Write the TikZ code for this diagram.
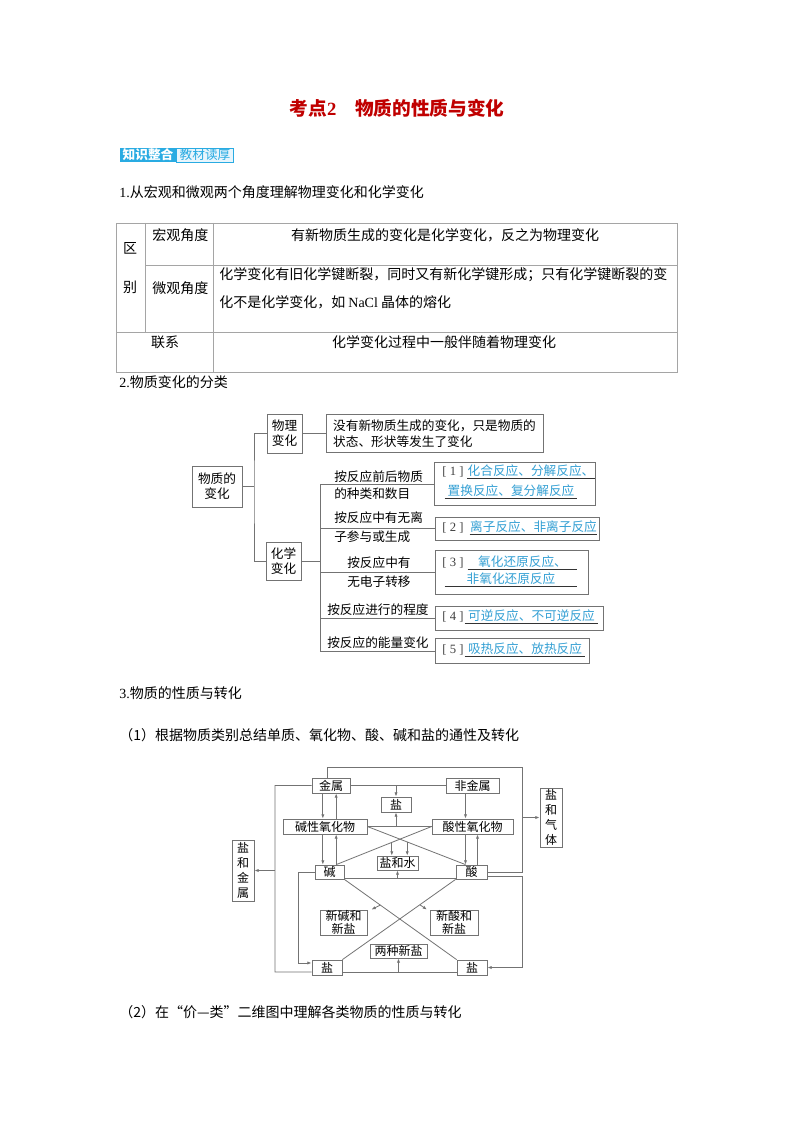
\documentclass[tikz,border=0pt]{standalone}
\usepackage{fontspec}
\setmainfont{Noto Sans CJK SC}
\newfontfamily\lat{Liberation Serif}
\usepackage{tikz}
\usetikzlibrary{arrows.meta,calc}
\definecolor{titlered}{RGB}{192,0,0}
\definecolor{badgeblue}{RGB}{41,171,226}
\definecolor{badgelight}{RGB}{232,245,252}
\definecolor{ansblue}{RGB}{52,160,212}
\definecolor{linegray}{RGB}{115,115,115}
\definecolor{tablegray}{RGB}{165,165,165}
\tikzset{
  px size/.style 2 args={
    minimum width=#1*0.75pt,
    minimum height=#2*0.75pt
  },
  body text/.style={
    font=\fontsize{10.5}{13}\selectfont,
    inner sep=0pt
  },
  heading/.style={
    body text,
    anchor=west
  },
  table line/.style={
    draw=tablegray,
    line width=0.6pt
  },
  map box/.style={
    draw=linegray,
    line width=0.6pt,
    inner sep=0pt,
    align=center,
    font=\fontsize{9.5}{11.25}\selectfont
  },
  label text/.style={
    font=\fontsize{9.5}{11}\selectfont,
    inner sep=0pt,
    anchor=west
  },
  answer/.style={
    font=\fontsize{9.5}{11}\selectfont,
    text=ansblue,
    inner sep=0pt,
    text height=7pt,
    text depth=2pt
  },
  bracket/.style={
    font=\lat\fontsize{9.5}{11}\selectfont,
    text=black!75,
    inner sep=0pt
  },
  uline/.style={
    draw=black!80,
    line width=0.5pt
  },
  chem box/.style={
    draw=linegray,
    line width=0.6pt,
    inner sep=0pt,
    align=center,
    font=\fontsize{9}{11.25}\selectfont
  },
  link/.style={
    draw=linegray,
    line width=0.6pt
  },
  arrow/.style={
    link,
    -{Latex[length=3.2pt,width=2.4pt]}
  }
}

\begin{document}
\begin{tikzpicture}[x=0.75pt,y=-0.75pt]
  \fill[white] (0,0) rectangle (794,1123);
  \useasboundingbox (0,0) rectangle (794,1123);

  % Title and badge
  \node[font=\fontsize{14}{16}\selectfont\bfseries, text=titlered, inner sep=0pt] (title) at (397,108)
    {考点{\lat\bfseries 2}\hspace{1em}物质的性质与变化};
  \node[fill=badgeblue, text=white, font=\fontsize{9.5}{11}\selectfont\bfseries, inner sep=0pt, px size={56}{14}] (bd1) at (148,155) {知识整合};
  \node[fill=badgelight, draw=badgeblue, text=badgeblue, font=\fontsize{9.5}{11}\selectfont, inner sep=0pt, px size={57}{14}, anchor=west] (bd2) at (bd1.east) {教材读厚};

  % Part 1: table
  \node[heading] (h1) at (119,192) {{\lat 1.}从宏观和微观两个角度理解物理变化和化学变化};
  \draw[table line] (116,223) rectangle (677,372);
  \draw[table line] (213,223) -- (213,372);
  \draw[table line] (145,223) -- (145,332);
  \draw[table line] (145,265) -- (677,265);
  \draw[table line] (116,332) -- (677,332);
  \node[body text] (qu) at (130,248) {区};
  \node[body text] (bie) at (130,287) {别};
  \node[heading] (hg) at (152,235) {宏观角度};
  \node[heading] (wg) at (152,288) {微观角度};
  \node[body text] (lx) at (165,342) {联系};
  \node[body text] (t1) at (445,235) {有新物质生成的变化是化学变化，反之为物理变化};
  \node[heading] (t2a) at (219,275) {化学变化有旧化学键断裂，同时又有新化学键形成；只有化学键断裂的变};
  \node[heading] (t2b) at (219,302) {化不是化学变化，如 {\lat NaCl} 晶体的熔化};
  \node[body text] (t3) at (444,342) {化学变化过程中一般伴随着物理变化};

  % Part 2: classification of changes
  \node[heading] (h2) at (119,382) {{\lat 2.}物质变化的分类};
  \node[map box, px size={50}{41}] (root) at (217,486.5) {物质的\\变化};
  \node[map box, px size={35}{39}] (phys) at (284.5,433.5) {物理\\变化};
  \node[map box, px size={35}{38}] (chem) at (283.5,561) {化学\\变化};
  \node[map box, px size={217}{38}, align=left, font=\fontsize{9.5}{12}\selectfont] (desc) at (434.5,433.5)
    {没有新物质生成的变化，只是物质的\\状态、形状等发生了变化};
  \node[map box, px size={161}{43}] (r1) at (514.5,484) {};
  \node[map box, px size={164}{23}] (r2) at (517,528.5) {};
  \node[map box, px size={153}{44}] (r3) at (511.5,572) {};
  \node[map box, px size={168}{24}] (r4) at (519,618.5) {};
  \node[map box, px size={154}{25}] (r5) at (512,651) {};

  \coordinate (rt) at (254,486.5);
  \coordinate (ct) at (320,561);
  \draw[link] (root.east) -- (rt);
  \draw[link] (phys.west) -| (rt) |- (chem.west);
  \draw[link] (phys.east) -- (desc.west);
  \draw[link] (chem.east) -- (ct);
  \draw[link] (ct |- r1.west) -- (ct |- r5.west);
  \foreach \r in {r1,r2,r3,r4,r5}
    \draw[link] (ct |- \r.west) -- (\r.west);

  \node[label text] (l1a) at (334,476.5) {按反应前后物质};
  \node[label text] (l1b) at (334,494) {的种类和数目};
  \node[label text] (l2a) at (334,518) {按反应中有无离};
  \node[label text] (l2b) at (334,537) {子参与或生成};
  \node[label text] (l3a) at (347,563) {按反应中有};
  \node[label text] (l3b) at (347,582) {无电子转移};
  \node[label text] (l4) at (327,610) {按反应进行的程度};
  \node[label text] (l5) at (327,643) {按反应的能量变化};

  \node[bracket] (br1) at (453,472) {[ 1 ]};
  \node[bracket] (br2) at (453,528) {[ 2 ]};
  \node[bracket] (br3) at (453,563) {[ 3 ]};
  \node[bracket] (br4) at (453,617) {[ 4 ]};
  \node[bracket] (br5) at (453,650) {[ 5 ]};
  \node[answer, px size={122}{12}] (a1) at (531,472) {化合反应、分解反应、};
  \node[answer, px size={132}{12}] (a2) at (511,492) {置换反应、复分解反应};
  \node[answer, px size={127}{12}] (a3) at (533.5,528) {离子反应、非离子反应};
  \node[answer, px size={109}{12}] (a4) at (522.5,563) {氧化还原反应、};
  \node[answer, px size={132}{12}] (a5) at (511,580) {非氧化还原反应};
  \node[answer, px size={133}{12}] (a6) at (531.5,617) {可逆反应、不可逆反应};
  \node[answer, px size={120}{12}] (a7) at (525,650) {吸热反应、放热反应};
  \foreach \a in {a1,a2,a3,a4,a5,a6,a7}
    \draw[uline] (\a.south west) -- (\a.south east);

  % Part 3: properties and transformations
  \node[heading] (h3) at (119,693) {{\lat 3.}物质的性质与转化};
  \node[heading] (h4) at (119,735) {（1）根据物质类别总结单质、氧化物、酸、碱和盐的通性及转化};

  \node[chem box, px size={38}{15}] (jinshu) at (331,785.5) {金属};
  \node[chem box, px size={53}{15}] (feijs) at (472.5,785.5) {非金属};
  \node[chem box, px size={30}{15}] (yantop) at (396,804.5) {盐};
  \node[chem box, px size={84}{15}] (jyh) at (325,826.5) {碱性氧化物};
  \node[chem box, px size={81}{15}] (syh) at (472.5,826.5) {酸性氧化物};
  \node[chem box, px size={41}{14}] (yhs) at (397.5,863) {盐和水};
  \node[chem box, px size={29}{14}] (jian) at (329.5,872) {碱};
  \node[chem box, px size={31}{14}] (suan) at (471.5,872) {酸};
  \node[chem box, px size={22}{61}] (yhjs) at (243,870.5) {盐\\和\\金\\属};
  \node[chem box, px size={22}{59}] (yhqt) at (551,817.5) {盐\\和\\气\\体};
  \node[chem box, px size={47}{25}, font=\fontsize{9}{10}\selectfont] (xjx) at (343.5,922.5) {新碱和\\新盐};
  \node[chem box, px size={48}{25}, font=\fontsize{9}{10}\selectfont] (xsx) at (454,922.5) {新酸和\\新盐};
  \node[chem box, px size={57}{14}] (lzx) at (398.5,951) {两种新盐};
  \node[chem box, px size={30}{15}] (yanL) at (327,967.5) {盐};
  \node[chem box, px size={30}{15}] (yanR) at (472,967.5) {盐};

  \coordinate (tr) at (522.5,767);
  \coordinate (bl) at (275,972);
  \coordinate (ja) at ([xshift=-5pt]jian.north);
  \coordinate (jb) at ([xshift=5pt]jian.north);
  \coordinate (sa) at ([xshift=-4.5pt]suan.north);
  \coordinate (sb) at ([xshift=4.5pt]suan.north);

  % outer loops
  \draw[link] ([xshift=-3pt]jinshu.north) |- (tr) |- (suan.east);
  \draw[arrow] (tr |- yhqt.west) -- (yhqt.west);
  \draw[link] (jinshu.west) -| (bl) -- ([yshift=-3.4pt]yanL.west);
  \draw[arrow] (bl |- yhjs.east) -- (yhjs.east);
  \draw[arrow] (jian.west) -| ([xshift=-9.75pt,yshift=3.4pt]yanL.west) -- ([yshift=3.4pt]yanL.west);
  \draw[arrow] ([yshift=-3pt]suan.east) -| (tr |- yanR.east) -- (yanR.east);

  % upper part
  \draw[link] (jinshu.east) -- (feijs.west);
  \draw[arrow] (yantop.north |- jinshu.east) -- (yantop.north);
  \draw[link] (jyh.east) -- (syh.west);
  \draw[arrow] (yantop.south |- jyh.east) -- (yantop.south);
  \draw[arrow] (ja |- jinshu.south) -- (ja |- jyh.north);
  \draw[arrow] (jb |- jyh.north) -- (jb |- jinshu.south);
  \draw[arrow] (ja |- jyh.south) -- (ja);
  \draw[arrow] (jb) -- (jb |- jyh.south);
  \draw[arrow] (sa |- feijs.south) -- (sa |- syh.north);
  \draw[arrow] (sa |- syh.south) -- (sa);
  \draw[arrow] (sb) -- (sb |- syh.south);

  % crossing to salt and water
  \draw[link] (jyh.east) -- coordinate[pos=0.406] (xa) (sa);
  \draw[link] (syh.west) -- coordinate[pos=0.417] (xb) (jb);
  \draw[arrow] (xa) -- (xa |- yhs.north);
  \draw[arrow] (xb) -- (xb |- yhs.north);
  \draw[link] ([yshift=-4.5pt]jian.east) -- coordinate (jsm) ([yshift=-4.5pt]suan.west);
  \draw[arrow] (yhs.south |- jsm) -- (yhs.south);

  % lower part
  \draw[link] (jian.south east) -- coordinate[pos=0.32] (xc) (yanR.north west);
  \draw[link] (suan.south west) -- coordinate[pos=0.316] (xd) (yanL.north east);
  \draw[arrow] (xc) -- ([xshift=3pt]xjx.north east);
  \draw[arrow] (xd) -- ([xshift=-2pt]xsx.north west);
  \draw[link] ([yshift=-3.4pt]yanL.east) -- coordinate (ym) ([yshift=-3.4pt]yanR.west);
  \draw[arrow] (lzx.south |- ym) -- (lzx.south);

  \node[heading] (h5) at (119,1012) {（2）在“价—类”二维图中理解各类物质的性质与转化};
\end{tikzpicture}
\end{document}
